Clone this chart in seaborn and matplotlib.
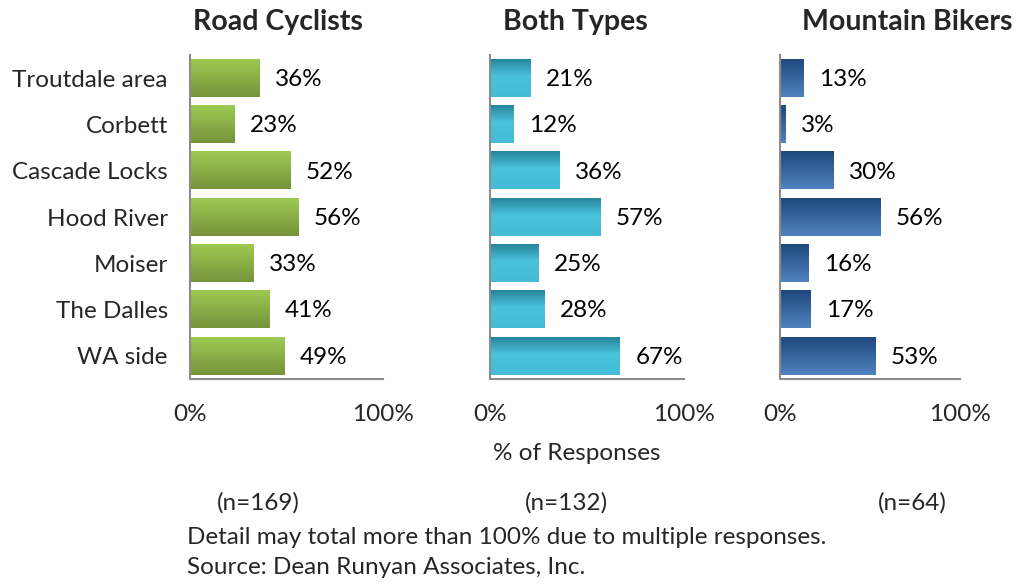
import numpy as np
import pandas as pd
import matplotlib
matplotlib.use("Agg")
import matplotlib.pyplot as plt
from matplotlib.colors import LinearSegmentedColormap
import seaborn as sns

# data
places = ["Troutdale area", "Corbett", "Cascade Locks", "Hood River",
          "Moiser", "The Dalles", "WA side"]
road = [36, 23, 52, 56, 33, 41, 49]
both = [21, 12, 36, 57, 25, 28, 67]
mtb = [13, 3, 30, 56, 16, 17, 53]
titles = ["Road Cyclists", "Both Types", "Mountain Bikers"]
counts = ["(n=169)", "(n=132)", "(n=64)"]

sns.set_style("white")
plt.rcParams["font.family"] = ["Lato", "DejaVu Sans"]

W, H = 1019, 584
fig = plt.figure(figsize=(W / 100, H / 100), dpi=100)

def fx(px):
    return px / W

def fy(py):
    return 1 - py / H

# panel boxes in pixels: left, right
boxes = [(190, 383), (490, 684), (780, 960)]
top, bottom = 55, 379
fs = 17.5

# gradient stops top -> bottom for each panel
grads = [
    [(0, "#9dca52"), (1, "#76933b")],
    [(0, "#26869b"), (0.45, "#4bc2dc"), (1, "#45bcd6")],
    [(0, "#1f487c"), (1, "#4f82bf")],
]

gray = "#8c8c8c"
for i, vals in enumerate([road, both, mtb]):
    l, r = boxes[i]
    ax = fig.add_axes([fx(l), fy(bottom), fx(r - l), fy(top) - fy(bottom)])
    df = pd.DataFrame({"place": places, "pct": vals})
    sns.barplot(data=df, y="place", x="pct", orient="h", ax=ax,
                width=0.81, color="#888888")
    cmap = LinearSegmentedColormap.from_list("g%d" % i, grads[i])
    grad = cmap(np.linspace(0, 1, 64))[:, None, :]
    for p in ax.patches:
        x0, y0, w, h = p.get_x(), p.get_y(), p.get_width(), p.get_height()
        ax.imshow(grad, extent=[x0, x0 + w, y0 + h, y0], origin="upper",
                  aspect="auto", zorder=2, interpolation="bilinear")
        p.set_visible(False)
        ax.annotate("%d%%" % round(w), (x0 + w, y0 + h / 2),
                    xytext=(11, -1), textcoords="offset points",
                    ha="left", va="center", fontsize=fs, color="black")
    ax.set_xlim(0, 100)
    ax.set_ylim(len(places) - 0.5, -0.5)
    ax.set_xticks([0, 100])
    ax.set_xticklabels(["0%", "100%"], fontsize=fs)
    ax.set_yticks(range(len(places)))
    ax.set_yticks(np.arange(-0.5, len(places)), minor=True)
    if i == 0:
        ax.set_yticklabels(places, fontsize=fs)
    else:
        ax.set_yticklabels([])
    ax.tick_params(axis="y", which="major", length=0, pad=16)
    ax.tick_params(axis="y", which="minor", length=5, width=1.5, color=gray,
                   direction="out")
    ax.tick_params(axis="x", length=6, width=1.5, color=gray, pad=12,
                   direction="out")
    ax.set_xlabel("")
    ax.set_ylabel("")
    for s in ["top", "right"]:
        ax.spines[s].set_visible(False)
    for s in ["left", "bottom"]:
        ax.spines[s].set_color(gray)
        ax.spines[s].set_linewidth(1.5)
    ax.set_facecolor("none")

title_x = [278, 575, 907]
for t, x in zip(titles, title_x):
    fig.text(fx(x), fy(22), t, ha="center", va="center", fontsize=20.5,
             fontweight="bold")

fig.text(fx(577), fy(453), "% of Responses", ha="center", va="center",
         fontsize=fs)
for c, x in zip(counts, [258, 566, 912]):
    fig.text(fx(x), fy(503), c, ha="center", va="center", fontsize=fs)
fig.text(fx(187), fy(537), "Detail may total more than 100% due to multiple responses.",
         ha="left", va="center", fontsize=fs)
fig.text(fx(187), fy(568), "Source: Dean Runyan Associates, Inc.",
         ha="left", va="center", fontsize=fs)

fig.savefig("out.png", dpi=100, facecolor="white")
